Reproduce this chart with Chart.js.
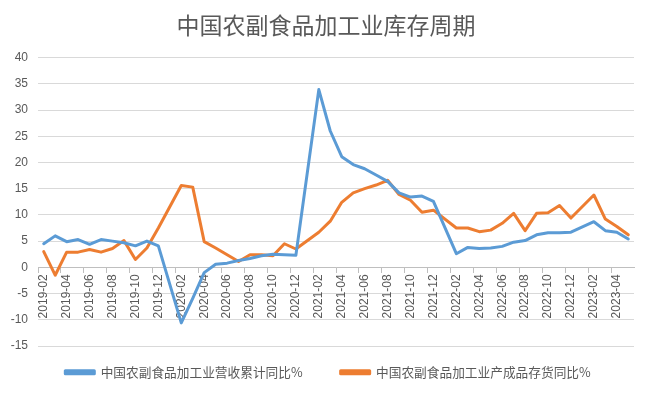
<!DOCTYPE html>
<html>
<head>
<meta charset="utf-8">
<script src="https://cdn.jsdelivr.net/npm/chart.js@4"></script>
<style>
  body { margin: 0; background: #fff; }
</style>
</head>
<body>
<canvas id="chart" width="650" height="394"></canvas>
<script>
var months = [
  '2019-02','2019-03','2019-04','2019-05','2019-06','2019-07','2019-08','2019-09','2019-10','2019-11','2019-12',
  '2020-01','2020-02','2020-03','2020-04','2020-05','2020-06','2020-07','2020-08','2020-09','2020-10','2020-11','2020-12',
  '2021-01','2021-02','2021-03','2021-04','2021-05','2021-06','2021-07','2021-08','2021-09','2021-10','2021-11','2021-12',
  '2022-01','2022-02','2022-03','2022-04','2022-05','2022-06','2022-07','2022-08','2022-09','2022-10','2022-11','2022-12',
  '2023-01','2023-02','2023-03','2023-04','2023-05'
];

// 营收累计同比 (January not published -> null)
var revenue = [
  4.5, 6.0, 4.9, 5.3, 4.4, 5.3, 5.0, 4.7, 4.1, 5.0, 4.1,
  null, -10.6, -5.9, -1.0, 0.6, 0.8, 1.3, 1.7, 2.2, 2.5, 2.4, 2.3,
  null, 33.9, 26.0, 21.1, 19.6, 18.8, 17.6, 16.4, 14.2, 13.4, 13.6, 12.6,
  null, 2.6, 3.8, 3.6, 3.7, 4.0, 4.8, 5.1, 6.2, 6.6, 6.6, 6.7,
  null, 8.7, 7.0, 6.7, 5.4
];

// 产成品存货同比
var inventory = [
  3.0, -1.5, 2.9, 2.9, 3.4, 2.9, 3.6, 5.1, 1.5, 3.7, 7.5,
  null, 15.6, 15.3, 4.9, 3.7, 2.4, 1.1, 2.4, 2.4, 2.2, 4.5, 3.5,
  null, 6.7, 8.8, 12.4, 14.2, 15.0, 15.7, 16.6, 13.9, 12.8, 10.5, 10.9,
  null, 7.5, 7.5, 6.8, 7.1, 8.4, 10.3, 7.0, 10.3, 10.4, 11.8, 9.4,
  null, 13.8, 9.2, 7.8, 6.2
];

var grey = '#595959';
var cjk = '"Noto Sans CJK SC", "Noto Sans", sans-serif';
var legendGap = 38;   // horizontal gap between legend items
var legendPad = 20;   // vertical padding we actually want

// legend padding drives both the item gap and the box height:
// the box is capped with maxHeight, then its top is pulled up so the labels sit right.
// title and legend are also nudged to the centre of the whole picture.
var nudge = {
  id: 'nudge',
  afterLayout: function (chart) {
    var lg = chart.legend;
    lg.top -= legendGap - legendPad;
    lg.left += 11;
    lg.right += 11;
    var t = chart.titleBlock;
    t.left += 9;
    t.right += 9;
  }
};

var ctx = document.getElementById('chart').getContext('2d');
var chart = new Chart(ctx, {
  type: 'line',
  data: {
    labels: months,
    datasets: [{
      label: '中国农副食品加工业营收累计同比%',
      data: revenue,
      borderColor: '#5b9bd5',
      backgroundColor: '#5b9bd5',
      borderWidth: 3,
      pointRadius: 0,
      tension: 0,
      spanGaps: true,
      borderJoinStyle: 'round',
      borderCapStyle: 'round'
    }, {
      label: '中国农副食品加工业产成品存货同比%',
      data: inventory,
      borderColor: '#ed7d31',
      backgroundColor: '#ed7d31',
      borderWidth: 3,
      pointRadius: 0,
      tension: 0,
      spanGaps: true,
      borderJoinStyle: 'round',
      borderCapStyle: 'round'
    }]
  },
  options: {
    responsive: false,
    animation: false,
    layout: { padding: { left: 0, right: 16, bottom: 5 } },
    plugins: {
      title: {
        display: true,
        text: '中国农副食品加工业库存周期',
        color: grey,
        font: { family: cjk, size: 23, weight: 'normal' },
        padding: { top: 11, bottom: 19 }
      },
      legend: {
        position: 'bottom',
        maxHeight: 13 + legendPad + 10,
        labels: {
          color: grey,
          font: { family: cjk, size: 12.7 },
          boxWidth: 29,
          boxHeight: 3,
          padding: legendGap
        }
      },
      tooltip: { enabled: false }
    },
    scales: {
      x: {
        position: { y: 0 },
        offset: true,
        border: { display: true, color: '#bfbfbf' },
        grid: {
          offset: true,
          drawOnChartArea: false,
          drawTicks: true,
          tickLength: 5,
          tickColor: function (c) { return c.index % 2 === 0 ? '#bfbfbf' : 'rgba(0,0,0,0)'; }
        },
        ticks: {
          autoSkip: false,
          minRotation: 90,
          maxRotation: 90,
          padding: 2,
          color: grey,
          font: { size: 12, family: 'Liberation Sans' },
          callback: function (v, i) { return i % 2 === 0 ? months[i] : ''; }
        }
      },
      y: {
        min: -15,
        max: 40,
        border: { display: false },
        grid: { color: '#d9d9d9', drawTicks: false },
        ticks: {
          stepSize: 5,
          padding: 10,
          color: grey,
          font: { size: 12, family: 'Liberation Sans' }
        },
        afterFit: function (s) { s.width = 38; }
      }
    }
  },
  plugins: [nudge]
});
</script>
</body>
</html>
